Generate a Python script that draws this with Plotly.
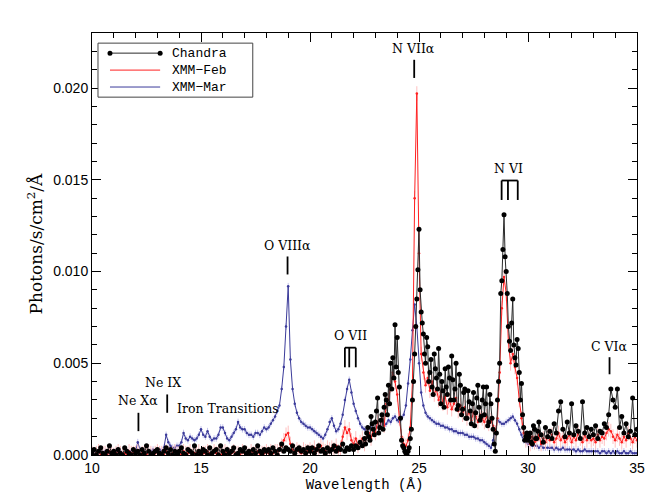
import numpy as np
import plotly.graph_objects as go

# wavelength grid (Angstrom), 0.1 A bins
WAVELENGTH = np.round(np.arange(100, 351) / 10.0, 1)

# fluxes in units of 1e-4 photons/s/cm^2/A, one row per Angstrom
CHANDRA = [
    1, 3, 0, 2, 4, 1, 0, 2, 5, 1,
    2, 0, 3, 1, 0, 4, 2, 1, 0, 3,
    1, 2, 0, 3, 1, 5, 2, 0, 1, 2,
    3, 1, 0, 2, 4, 1, 3, 0, 2, 1,
    2, 4, 1, 0, 3, 2, 1, 5, 0, 2,
    1, 3, 2, 0, 4, 1, 2, 3, 0, 5,
    2, 0, 3, 1, 2, 4, 0, 1, 3, 2,
    4, 1, 2, 0, 3, 1, 5, 2, 1, 3,
    2, 3, 1, 4, 2, 0, 3, 6, 2, 4,
    3, 2, 5, 1, 3, 4, 2, 3, 1, 4,
    2, 4, 1, 3, 5, 2, 3, 1, 4, 2,
    3, 5, 2, 4, 3, 6, 2, 4, 3, 5,
    3, 5, 4, 7, 5, 9, 12, 10, 21, 14,
    18, 31, 15, 22, 26, 30, 38, 50, 53, 71,
    64, 37, 8, 4, 1, 2, 9, 30, 55, 85,
    123, 78, 66, 50, 59, 45, 37, 55, 42, 58,
    28, 35, 47, 33, 42, 54, 30, 50, 27, 38,
    25, 36, 20, 29, 17, 34, 23, 38, 19, 30,
    22, 37, 18, 28, 14, 2, 30, 50, 95, 131,
    100, 70, 57, 85, 53, 63, 45, 39, 15, 10,
    8, 12, 6, 14, 9, 18, 11, 7, 15, 10,
    13, 9, 17, 12, 24, 29, 14, 10, 18, 12,
    28, 11, 16, 13, 9, 29, 12, 15, 10, 14,
    11, 16, 9, 13, 12, 17, 15, 22, 36, 30,
    26, 36, 15, 21, 12, 17, 10, 13, 31, 11,
    14,
]

# Chandra half-bin samples (22.55 ... 30.45 A) where the grating data are dense
CHANDRA_HALF_WL = np.round(np.arange(2255, 3050, 10) / 100.0, 2)
CHANDRA_HALF = [
    6, 15, 8, 17, 11,
    24, 12, 19, 14, 33, 22, 28, 36, 42, 48,
    45, 20, 5, 2, 0, 4, 14, 40, 70, 101,
    90, 72, 55, 64, 40, 52, 33, 47, 36, 44,
    40, 26, 37, 48, 30, 41, 36, 25, 44, 22,
    34, 20, 35, 24, 28, 16, 31, 26, 21, 37,
    28, 16, 33, 20, 6, 12, 40, 88, 112, 108,
    88, 62, 72, 60, 49, 58, 30, 22, 8, 12,
    10, 7, 16, 9, 13,
]

XMM_FEB = [
    1, 0, 1, 2, 0, 1, 1, 0, 2, 1,
    0, 1, 2, 1, 0, 1, 0, 2, 1, 1,
    1, 2, 0, 1, 1, 0, 2, 1, 0, 1,
    2, 1, 1, 0, 2, 1, 0, 1, 2, 1,
    1, 0, 2, 1, 1, 2, 0, 1, 1, 2,
    0, 1, 1, 2, 1, 0, 2, 1, 1, 0,
    1, 2, 1, 0, 1, 2, 1, 1, 0, 2,
    1, 1, 0, 2, 1, 1, 2, 0, 1, 1,
    2, 1, 2, 1, 2, 2, 3, 5, 8, 11,
    12, 6, 3, 2, 3, 2, 1, 3, 2, 2,
    3, 2, 4, 2, 3, 5, 3, 2, 4, 3,
    4, 3, 5, 2, 4, 10, 15, 12, 14, 8,
    6, 9, 5, 7, 9, 6, 10, 12, 9, 14,
    12, 18, 15, 20, 16, 28, 30, 38, 45, 40,
    33, 20, 10, 6, 5, 8, 15, 40, 140, 197,
    110, 55, 45, 38, 42, 35, 40, 33, 36, 30,
    34, 28, 32, 26, 30, 25, 28, 31, 24, 27,
    22, 26, 20, 24, 19, 23, 21, 18, 22, 20,
    18, 21, 17, 19, 16, 12, 20, 45, 80, 97,
    88, 62, 50, 55, 48, 42, 30, 20, 12, 8,
    9, 6, 10, 7, 8, 11, 6, 9, 7, 10,
    8, 11, 7, 9, 12, 8, 10, 7, 9, 11,
    7, 10, 8, 12, 9, 7, 11, 8, 10, 8,
    9, 7, 11, 8, 10, 9, 12, 14, 13, 10,
    8, 11, 9, 7, 10, 8, 12, 9, 7, 10,
    8,
]

XMM_MAR = [
    1, 2, 1, 1, 2, 1, 2, 1, 1, 2,
    1, 2, 1, 2, 1, 1, 2, 1, 2, 2,
    2, 7, 3, 2, 2, 1, 2, 2, 3, 2,
    2, 3, 2, 4, 11, 7, 5, 4, 4, 5,
    5, 7, 12, 9, 8, 10, 9, 8, 9, 11,
    14, 11, 10, 13, 10, 8, 9, 9, 11, 15,
    15, 12, 9, 8, 10, 12, 14, 18, 15, 14,
    14, 12, 11, 11, 10, 12, 12, 11, 13, 15,
    14, 15, 17, 19, 21, 24, 27, 36, 48, 70,
    92, 52, 36, 28, 23, 20, 18, 17, 16, 15,
    15, 14, 13, 12, 11, 10, 9, 11, 14, 18,
    20, 16, 13, 14, 17, 22, 30, 36, 41, 34,
    28, 24, 20, 17, 15, 14, 13, 14, 15, 14,
    15, 16, 15, 17, 16, 17, 19, 18, 20, 21,
    19, 18, 20, 22, 27, 39, 52, 68, 82, 70,
    50, 34, 27, 23, 21, 20, 19, 18, 17, 17,
    16, 16, 15, 15, 14, 14, 13, 13, 12, 12,
    12, 11, 11, 10, 10, 10, 9, 9, 8, 8,
    7, 6, 5, 4, 8, 14, 19, 18, 17, 17,
    18, 19, 20, 21, 19, 17, 14, 11, 8, 7,
    6, 6, 5, 5, 5, 4, 5, 4, 4, 4,
    4, 4, 3, 4, 3, 3, 4, 3, 3, 3,
    3, 3, 2, 3, 2, 2, 3, 2, 2, 2,
    2, 2, 2, 1, 2, 2, 1, 2, 1, 2,
    1, 2, 1, 1, 2, 1, 1, 2, 1, 1,
    1,
]

UNIT = 1e-4

# line identifications: (label, wavelengths of the marked lines)
LINE_IDS = [
    ("Ne Xα", [12.13]),
    ("Ne IX", [13.45]),
    ("O VIIIα", [18.97]),
    ("O VII", [21.6, 21.8, 22.1]),
    ("N VIIα", [24.78]),
    ("N VI", [28.79, 29.08, 29.53]),
    ("C VIα", [33.74]),
]

SERIES_NAMES = ["Chandra", "XMM−Feb", "XMM−Mar"]
SERIES_COLOURS = ["#2a2a2a", "#ff2020", "#3b3b9a"]

SERIF = "DejaVu Serif"
MONO = "Liberation Mono"
SANS = "Liberation Sans"


def flux(values):
    return np.asarray(values, dtype=float) * UNIT


# merge the Chandra main and half-bin samples in wavelength order
ch_wl = np.concatenate([WAVELENGTH, CHANDRA_HALF_WL])
ch_fx = np.concatenate([flux(CHANDRA), flux(CHANDRA_HALF)])
order = np.argsort(ch_wl, kind="stable")
ch_wl, ch_fx = ch_wl[order], ch_fx[order]

fig = go.Figure()

fig.add_trace(go.Scatter(
    x=WAVELENGTH, y=flux(XMM_MAR), name="XMM−Mar",
    mode="lines+markers",
    line=dict(color="#3b3b9a", width=1),
    marker=dict(color="#3b3b9a", size=2.5),
    error_y=dict(type="constant", value=0.00018, color="#c4c4ec",
                 thickness=1, width=0),
))
fig.add_trace(go.Scatter(
    x=WAVELENGTH, y=flux(XMM_FEB), name="XMM−Feb",
    mode="lines+markers",
    line=dict(color="#ff2020", width=1),
    marker=dict(color="#ff2020", size=2.5),
    error_y=dict(type="constant", value=0.0004, color="#ffc0c0",
                 thickness=1, width=0),
))
fig.add_trace(go.Scatter(
    x=ch_wl, y=ch_fx, name="Chandra",
    mode="lines+markers",
    line=dict(color="#2a2a2a", width=1),
    marker=dict(color="black", size=5),
))

# line markers / labels  (text x, text y, tick top, tick bottom)
label_pos = {
    "Ne Xα": (12.1, 0.00297, 0.0023, 0.0013),
    "Ne IX": (13.26, 0.00396, 0.0033, 0.0023),
    "O VIIIα": (18.95, 0.01143, 0.01082, 0.00984),
    "O VII": (21.85, 0.00654, 0.00585, 0.00478),
    "N VIIα": (24.77, 0.02214, 0.02154, 0.02055),
    "N VI": (29.1, 0.0156, 0.01496, 0.0139),
    "C VIα": (33.72, 0.00593, 0.00533, 0.0044),
}
for name, waves in LINE_IDS:
    tx, ty, top, bottom = label_pos[name]
    fig.add_annotation(x=tx, y=ty, text=name, showarrow=False,
                       font=dict(family=SERIF, size=12.5, color="black"))
    for w in waves:
        fig.add_shape(type="line", x0=w, x1=w, y0=bottom, y1=top,
                      line=dict(color="black", width=1.8))
    if len(waves) > 1:
        fig.add_shape(type="line", x0=waves[0], x1=waves[-1], y0=top, y1=top,
                      line=dict(color="black", width=1.8))

fig.add_annotation(x=16.24, y=0.00253, text="Iron Transitions", showarrow=False,
                   font=dict(family=SERIF, size=12.5, color="black"))

# hand-drawn legend box (IDL style), paper coordinates
fig.add_shape(type="rect", xref="paper", yref="paper",
              x0=0.011, x1=0.295, y0=0.848, y1=0.976,
              line=dict(color="#444444", width=1), fillcolor="white")
rows = [0.9523, 0.9121, 0.8720]
for name, colour, ry in zip(SERIES_NAMES, SERIES_COLOURS, rows):
    fig.add_shape(type="line", xref="paper", yref="paper",
                  x0=0.033, x1=0.125, y0=ry, y1=ry,
                  line=dict(color=colour, width=1))
    if name == "Chandra":
        for ex in (0.033, 0.125):
            fig.add_shape(type="circle", xref="paper", yref="paper",
                          xsizemode="pixel", ysizemode="pixel",
                          xanchor=ex, yanchor=ry, x0=-2.5, x1=2.5, y0=-2.5, y1=2.5,
                          fillcolor="black", line=dict(color="black", width=0))
fig.add_annotation(xref="paper", yref="paper", x=0.143, y=rows[1],
                   text="<br>".join(SERIES_NAMES), align="left",
                   xanchor="left", yanchor="middle", showarrow=False,
                   font=dict(family=MONO, size=13, color="black"))

axis_common = dict(
    showline=True, linecolor="black", linewidth=1, mirror="ticks",
    ticks="inside", ticklen=9, tickwidth=1, tickcolor="black",
    showgrid=False, zeroline=False, automargin=False,
    tickfont=dict(family=SANS, size=14, color="black"),
)

fig.update_xaxes(
    range=[10, 35], tick0=10, dtick=5,
    minor=dict(ticks="inside", ticklen=5, dtick=1, tickcolor="black"),
    title=dict(text="Wavelength (Å)", font=dict(family=MONO, size=14, color="black"),
               standoff=4),
    **axis_common,
)
fig.update_yaxes(
    range=[0, 0.023], tick0=0, dtick=0.005, tickformat=".3f",
    minor=dict(ticks="inside", ticklen=5, dtick=0.001, tickcolor="black"),
    title=dict(text="Photons/s/cm<sup>2</sup>/Å",
               font=dict(family=SERIF, size=17, color="black"), standoff=6),
    **axis_common,
)

fig.update_layout(
    width=654, height=502,
    margin=dict(l=84, r=25, t=25, b=55),
    paper_bgcolor="white", plot_bgcolor="white",
    showlegend=False,
)

fig.write_html("out.html")
